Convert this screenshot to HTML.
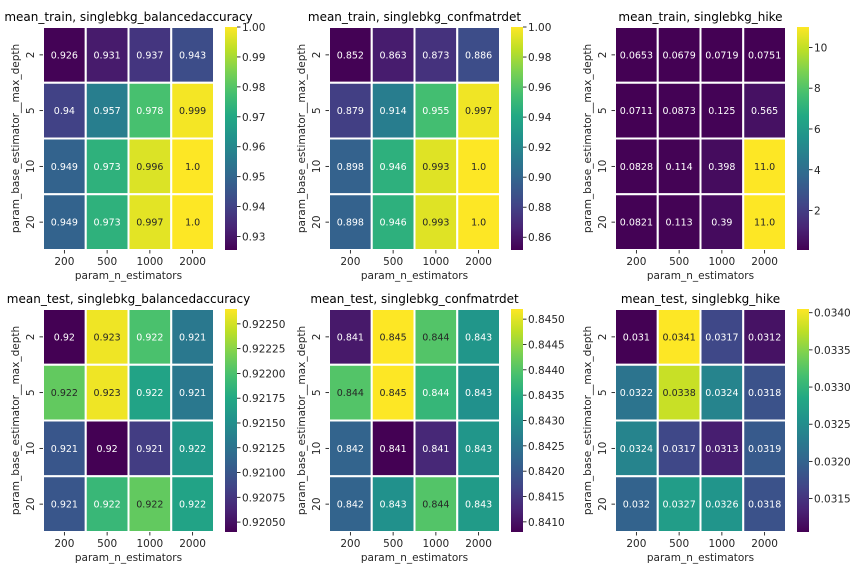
<!DOCTYPE html>
<html><head><meta charset="utf-8"><style>
body{margin:0;background:#fff;}
svg text{font-family:"DejaVu Sans","Liberation Sans",sans-serif;}
</style></head><body>
<svg id="chart" width="864" height="576" xmlns="http://www.w3.org/2000/svg"></svg>
<script>
const xCategories = ["200","500","1000","2000"];
const yCategories = ["2","5","10","20"];
const titles = ["mean_train, singlebkg_balancedaccuracy","mean_train, singlebkg_confmatrdet","mean_train, singlebkg_hike","mean_test, singlebkg_balancedaccuracy","mean_test, singlebkg_confmatrdet","mean_test, singlebkg_hike"];
const values0 = [[0.926,0.931,0.937,0.943],[0.94,0.957,0.978,0.999],[0.949,0.973,0.996,1.0],[0.949,0.973,0.997,1.0]];
const labels0 = [["0.926","0.931","0.937","0.943"],["0.94","0.957","0.978","0.999"],["0.949","0.973","0.996","1.0"],["0.949","0.973","0.997","1.0"]];
const values1 = [[0.852,0.863,0.873,0.886],[0.879,0.914,0.955,0.997],[0.898,0.946,0.993,1.0],[0.898,0.946,0.993,1.0]];
const labels1 = [["0.852","0.863","0.873","0.886"],["0.879","0.914","0.955","0.997"],["0.898","0.946","0.993","1.0"],["0.898","0.946","0.993","1.0"]];
const values2 = [[0.0653,0.0679,0.0719,0.0751],[0.0711,0.0873,0.125,0.565],[0.0828,0.114,0.398,11.0],[0.0821,0.113,0.39,11.0]];
const labels2 = [["0.0653","0.0679","0.0719","0.0751"],["0.0711","0.0873","0.125","0.565"],["0.0828","0.114","0.398","11.0"],["0.0821","0.113","0.39","11.0"]];
const values3 = [[0.9204,0.9226,0.9220,0.9213],[0.9221,0.9226,0.9217,0.9213],[0.9210,0.9204,0.9208,0.9216],[0.9210,0.9219,0.9221,0.9217]];
const labels3 = [["0.92","0.923","0.922","0.921"],["0.922","0.923","0.922","0.921"],["0.921","0.92","0.921","0.922"],["0.921","0.922","0.922","0.922"]];
const values4 = [[0.8411,0.8452,0.8440,0.8431],[0.8440,0.8452,0.8437,0.8430],[0.8422,0.8408,0.8413,0.8431],[0.8422,0.8430,0.8440,0.8432]];
const labels4 = [["0.841","0.845","0.844","0.843"],["0.844","0.845","0.844","0.843"],["0.842","0.841","0.841","0.843"],["0.842","0.843","0.844","0.843"]];
const values5 = [[0.03105,0.03405,0.0317,0.0312],[0.0322,0.0338,0.0324,0.0318],[0.0324,0.0317,0.0313,0.0319],[0.0320,0.0327,0.0326,0.0318]];
const labels5 = [["0.031","0.0341","0.0317","0.0312"],["0.0322","0.0338","0.0324","0.0318"],["0.0324","0.0317","0.0313","0.0319"],["0.032","0.0327","0.0326","0.0318"]];
const cbMin = [0.9255,0.8515,0.0653,0.92040,0.84080,0.03105];
const cbMax = [1.0,1.0,11.0,0.92265,0.84520,0.03405];
const ticks0 = [0.93,0.94,0.95,0.96,0.97,0.98,0.99,1.00];
const ticks1 = [0.86,0.88,0.90,0.92,0.94,0.96,0.98,1.00];
const ticks2 = [2,4,6,8,10];
const ticks3 = [0.92050,0.92075,0.92100,0.92125,0.92150,0.92175,0.92200,0.92225,0.92250];
const ticks4 = [0.8410,0.8415,0.8420,0.8425,0.8430,0.8435,0.8440,0.8445,0.8450];
const ticks5 = [0.0315,0.0320,0.0325,0.0330,0.0335,0.0340];
const tickDec = [2,2,0,5,4,4];

const allValues=[values0,values1,values2,values3,values4,values5];
const allLabels=[labels0,labels1,labels2,labels3,labels4,labels5];
const allTicks=[ticks0,ticks1,ticks2,ticks3,ticks4,ticks5];
const vir=["#440154","#482475","#414487","#355f8d","#2a788e","#21918c","#22a884","#44bf70","#7ad151","#bddf26","#fde725"];
function hex(h){return [1,3,5].map(i=>parseInt(h.substr(i,2),16));}
function cmap(t){t=Math.max(0,Math.min(1,t));const p=t*(vir.length-1);const i=Math.min(Math.floor(p),vir.length-2);const f=p-i;const a=hex(vir[i]),b=hex(vir[i+1]);const c=a.map((v,k)=>Math.round(v+(b[k]-v)*f));return c;}
function relLum(c){const l=c.map(v=>{v/=255;return v<=0.03928?v/12.92:Math.pow((v+0.055)/1.055,2.4);});return 0.2126*l[0]+0.7152*l[1]+0.0722*l[2];}
const svg=document.getElementById('chart');
const NS="http://www.w3.org/2000/svg";
function mk(tag,attrs,parent){const e=document.createElementNS(NS,tag);for(const k in attrs)e.setAttribute(k,attrs[k]);(parent||svg).appendChild(e);return e;}
const colX=[43,329,615];const rowY=[27,309];const W=171,H=223;const cbOff=182,cbW=12;
for(let p=0;p<6;p++){
  const x0=colX[p%3],y0=rowY[Math.floor(p/3)];
  const g=mk('g',{});
  
  
  const vmin=cbMin[p],vmax=cbMax[p];
  const xs=i=>x0+i*W/4, ys=j=>y0+j*H/4;
  const norm=v=>(v-vmin)/(vmax-vmin);
  const t=mk('text',{x:x0+W/2,y:y0-6,'text-anchor':'middle','font-size':'12',fill:'#000'},g);t.textContent=titles[p];
  
  
  const vals=allValues[p],labs=allLabels[p];
  for(let j=0;j<4;j++)for(let i=0;i<4;i++){
    const c=cmap(norm(vals[j][i]));
    const r=mk('rect',{x:xs(i),y:ys(j),width:W/4,height:H/4,fill:`rgb(${c})`,stroke:'#fff','stroke-width':2},g);
    
    
    const tx=mk('text',{x:xs(i)+W/8,y:ys(j)+H/8+3.5,'text-anchor':'middle','font-size':'9.5',fill:relLum(c)>0.408?'#262626':'#fff'},g);tx.textContent=labs[j][i];
    
    
  }
  for(let i=0;i<4;i++){
    mk('line',{x1:xs(i)+W/8,x2:xs(i)+W/8,y1:y0+H,y2:y0+H+3.5,stroke:'#000','stroke-width':0.8},g);
    const tl=mk('text',{x:xs(i)+W/8,y:y0+H+15,'text-anchor':'middle','font-size':'10.5',fill:'#262626'},g);tl.textContent=xCategories[i];
    
    
  }
  for(let j=0;j<4;j++){
    const cy=ys(j)+H/8;
    mk('line',{x1:x0-3.5,x2:x0,y1:cy,y2:cy,stroke:'#000','stroke-width':0.8},g);
    const tl=mk('text',{x:x0-9,y:cy,'text-anchor':'middle','font-size':'10.5',fill:'#262626',transform:`rotate(-90 ${x0-9} ${cy})`},g);tl.textContent=yCategories[j];
    
    
  }
  const xl=mk('text',{x:x0+W/2,y:y0+H+29,'text-anchor':'middle','font-size':'10.5',fill:'#262626'},g);xl.textContent='param_n_estimators';
  
  
  const yx=x0-24,yy=y0+H/2;
  const yl=mk('text',{x:yx,y:yy,'text-anchor':'middle','font-size':'10.5',fill:'#262626',transform:`rotate(-90 ${yx} ${yy})`},g);yl.textContent='param_base_estimator__max_depth';
  
  
  const cx=x0+cbOff;
  const gid='grad'+p;
  const defs=mk('defs',{},g);
  const lg=mk('linearGradient',{id:gid,x1:0,y1:1,x2:0,y2:0},defs);
  for(let k=0;k<=20;k++){const c=cmap(k/20);mk('stop',{offset:k/20,'stop-color':`rgb(${c})`},lg);}
  const cb=mk('rect',{x:cx,y:y0,width:cbW,height:H,fill:`url(#${gid})`},g);
  
  
  const tks=allTicks[p];
  tks.forEach(v=>{
    const ty=y0+H-(v-vmin)/(vmax-vmin)*H;
    mk('line',{x1:cx+cbW,x2:cx+cbW+3.5,y1:ty,y2:ty,stroke:'#000','stroke-width':0.8},g);
    const tt=mk('text',{x:cx+cbW+5,y:ty+4,'font-size':'10.5',fill:'#262626'},g);tt.textContent=v.toFixed(tickDec[p]);
    
    
  });
}
</script>
</body></html>
